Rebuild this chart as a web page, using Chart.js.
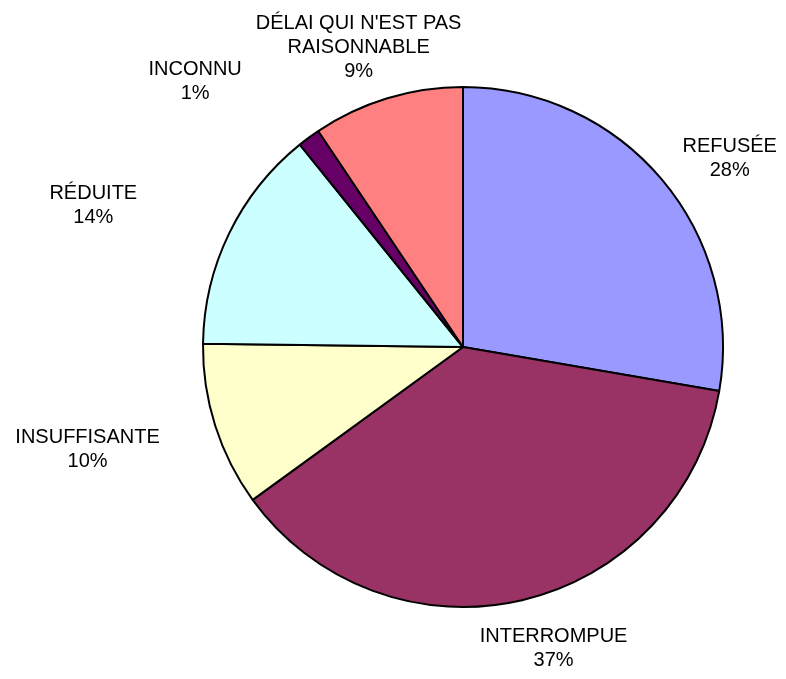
<!DOCTYPE html>
<html>
<head>
<meta charset="utf-8">
<script src="https://cdn.jsdelivr.net/npm/chart.js@4"></script>
<style>
  html, body { margin: 0; padding: 0; background: #fff; }
  #wrap { width: 786px; height: 679px; }
</style>
</head>
<body>
<div id="wrap"><canvas id="pie" width="786" height="679"></canvas></div>
<script>
// données (parts en %)
const categories = ['REFUSÉE', 'INTERROMPUE', 'INSUFFISANTE', 'RÉDUITE', 'INCONNU', ["DÉLAI QUI N'EST PAS", 'RAISONNABLE']];
const values = [27.7, 37.3, 10.2, 14.0, 1.4, 9.4];
const colors = ['#9999FF', '#993366', '#FFFFCC', '#CCFFFF', '#660066', '#FF8080'];

// placement des étiquettes : angle (deg, depuis midi) et distance (x rayon)
const labelAngle = [54.7, 163.3, 254.7, 290.9, 314.8, 340.8];
const labelDist = [1.257, 1.212, 1.497, 1.522, 1.452, 1.221];

const FONT = '20px "Liberation Sans", Arial, sans-serif';
const LINE_H = 24;

const outsideLabels = {
    id: 'outsideLabels',
    afterDraw(chart) {
        const ctx = chart.ctx;
        const meta = chart.getDatasetMeta(0);
        const data = chart.data.datasets[0].data;
        const total = data.reduce((a, b) => a + b, 0);
        ctx.save();
        ctx.font = FONT;
        ctx.fillStyle = '#000';
        ctx.textAlign = 'center';
        ctx.textBaseline = 'middle';
        meta.data.forEach((arc, i) => {
            const a = labelAngle[i] * Math.PI / 180;
            const d = arc.outerRadius * labelDist[i];
            const cx = arc.x + Math.sin(a) * d;
            const cy = arc.y - Math.cos(a) * d;
            const name = chart.data.labels[i];
            const lines = (Array.isArray(name) ? name.slice() : [name]);
            lines.push(Math.round(data[i] / total * 100) + '%');
            const y0 = cy - (lines.length - 1) * LINE_H / 2;
            lines.forEach((t, k) => ctx.fillText(t, cx, y0 + k * LINE_H));
        });
        ctx.restore();
    }
};

new Chart(document.getElementById('pie'), {
    type: 'pie',
    data: {
        labels: categories,
        datasets: [{
            data: values,
            backgroundColor: colors,
            borderColor: '#000',
            borderWidth: 2
        }]
    },
    options: {
        responsive: false,
        animation: false,
        layout: {
            padding: { left: 202, right: 62, top: 86, bottom: 71 }
        },
        plugins: {
            legend: { display: false },
            tooltip: { enabled: false }
        }
    },
    plugins: [outsideLabels]
});
</script>
</body>
</html>
